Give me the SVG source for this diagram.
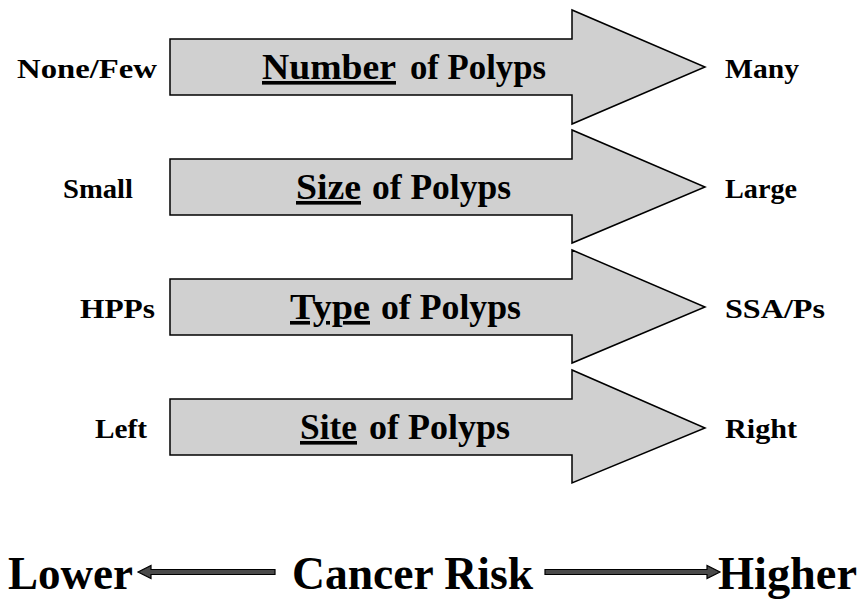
<svg xmlns="http://www.w3.org/2000/svg" width="864" height="604" viewBox="0 0 864 604">
<style>
.arrow{fill:#d0d0d0;stroke:#000;stroke-width:1.5;stroke-linejoin:miter}
.t{font-family:"Liberation Serif","Times New Roman",serif;font-weight:bold;fill:#000}
.lbl{font-size:28px}
.mid{font-size:36px}
.u{text-decoration:underline}
.big{font-size:46px}
.conn{fill:#4a4a4a;stroke:#000;stroke-width:1.2;stroke-linejoin:miter}
</style>
<rect width="864" height="604" fill="#fff"/>
<g id="number">
<polygon class="arrow" points="170,39 572,39 572,10 705,67 572,124 572,95 170,95"/>
<text class="t mid u" x="262" y="79" textLength="134" lengthAdjust="spacingAndGlyphs">Number</text>
<text class="t mid" x="410" y="79" textLength="136" lengthAdjust="spacingAndGlyphs">of Polyps</text>
<text class="t lbl" x="17" y="78" textLength="140" lengthAdjust="spacingAndGlyphs">None/Few</text>
<text class="t lbl" x="725" y="78" textLength="74" lengthAdjust="spacingAndGlyphs">Many</text>
</g>
<g id="size">
<polygon class="arrow" points="170,159 572,159 572,130 705,187 572,243 572,215 170,215"/>
<text class="t mid u" x="296" y="199" textLength="65" lengthAdjust="spacingAndGlyphs">Size</text>
<text class="t mid" x="372" y="199" textLength="139" lengthAdjust="spacingAndGlyphs">of Polyps</text>
<text class="t lbl" x="63" y="198" textLength="70" lengthAdjust="spacingAndGlyphs">Small</text>
<text class="t lbl" x="725" y="198" textLength="72" lengthAdjust="spacingAndGlyphs">Large</text>
</g>
<g id="type">
<polygon class="arrow" points="170,279 572,279 572,250 705,307 572,363 572,335 170,335"/>
<text class="t mid u" x="290" y="319" textLength="80" lengthAdjust="spacingAndGlyphs">Type</text>
<text class="t mid" x="381" y="319" textLength="140" lengthAdjust="spacingAndGlyphs">of Polyps</text>
<text class="t lbl" x="80" y="318" textLength="75" lengthAdjust="spacingAndGlyphs">HPPs</text>
<text class="t lbl" x="725" y="318" textLength="100" lengthAdjust="spacingAndGlyphs">SSA/Ps</text>
</g>
<g id="site">
<polygon class="arrow" points="170,399 572,399 572,370 705,428 572,483 572,455 170,455"/>
<text class="t mid u" x="300" y="439" textLength="57" lengthAdjust="spacingAndGlyphs">Site</text>
<text class="t mid" x="369" y="439" textLength="141" lengthAdjust="spacingAndGlyphs">of Polyps</text>
<text class="t lbl" x="95" y="438" textLength="52" lengthAdjust="spacingAndGlyphs">Left</text>
<text class="t lbl" x="725" y="438" textLength="72" lengthAdjust="spacingAndGlyphs">Right</text>
</g>
<g id="risk">
<text class="t big" x="8" y="589" textLength="125" lengthAdjust="spacingAndGlyphs">Lower</text>
<text class="t big" x="292" y="589" textLength="241" lengthAdjust="spacingAndGlyphs">Cancer Risk</text>
<text class="t big" x="718" y="589" textLength="139" lengthAdjust="spacingAndGlyphs">Higher</text>
</g>
<g id="connectors">
<path class="conn" d="M138,572 L151,565.5 L151,569.5 L275,569.5 L275,574.5 L151,574.5 L151,578.5 Z"/>
<path class="conn" d="M545,569.5 L707,569.5 L707,565.5 L720,572 L707,578.5 L707,574.5 L545,574.5 Z"/>
</g>
</svg>
